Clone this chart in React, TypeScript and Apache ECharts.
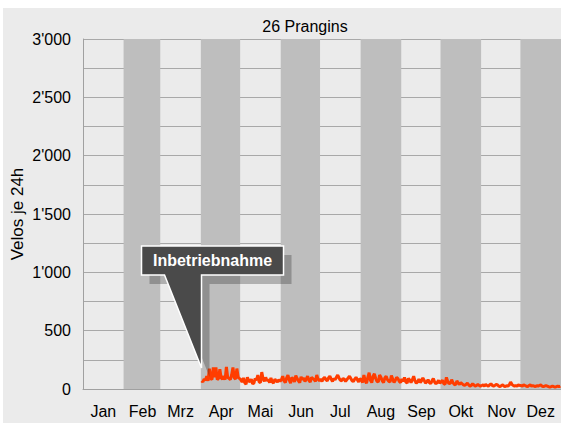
import React, { useEffect, useRef } from "react";
import * as echarts from "echarts";

const chartTitle = "26 Prangins";
const yAxisName = "Velos je 24h";
const annotationText = "Inbetriebnahme";
const monthLabels = ["Jan", "Feb", "Mrz", "Apr", "Mai", "Jun", "Jul", "Aug", "Sep", "Okt", "Nov", "Dez"];
const monthDays = [31, 28, 31, 30, 31, 30, 31, 31, 30, 31, 30, 31];
const yMin = 0;
const yMax = 3000;
const yGridStep = 250;
const yLabelStep = 500;

// daily counts from April (start of operation)
const aprValues = [70, 60, 85, 75, 110, 70, 175, 90, 80, 185, 100, 185, 80, 90, 170, 95, 85, 110, 80, 190, 100, 90, 80, 120, 185, 95, 85, 175, 100, 90];
const maiValues = [80, 60, 95, 55, 40, 100, 70, 60, 85, 45, 50, 90, 75, 120, 60, 55, 145, 90, 65, 100, 70, 80, 55, 95, 60, 50, 85, 70, 60, 80, 65];
const junValues = [80, 110, 70, 55, 95, 120, 75, 50, 100, 85, 60, 115, 90, 70, 55, 105, 80, 95, 65, 85, 110, 75, 60, 100, 90, 80, 65, 120, 85, 70];
const julValues = [85, 65, 90, 100, 80, 70, 95, 110, 85, 65, 90, 80, 100, 120, 95, 75, 70, 90, 85, 65, 80, 95, 110, 90, 70, 65, 85, 100, 80, 60, 90];
const augValues = [80, 55, 120, 70, 50, 100, 140, 75, 55, 110, 130, 90, 65, 60, 120, 100, 70, 55, 95, 110, 80, 65, 60, 115, 85, 55, 75, 100, 90, 65, 55];
const sepValues = [85, 65, 100, 60, 50, 90, 75, 55, 80, 110, 70, 50, 60, 85, 55, 70, 95, 75, 50, 60, 80, 55, 45, 70, 90, 60, 45, 55, 75, 50];
const oktValues = [60, 75, 45, 40, 100, 65, 45, 50, 80, 55, 40, 35, 70, 50, 40, 55, 45, 35, 30, 40, 50, 35, 25, 30, 45, 35, 25, 30, 40, 30, 25];
const novValues = [30, 35, 25, 40, 30, 25, 35, 45, 30, 25, 30, 40, 35, 25, 20, 30, 35, 25, 20, 30, 25, 35, 60, 40, 30, 25, 30, 25, 35, 30];
const dezValues = [30, 25, 35, 30, 25, 20, 30, 35, 25, 30, 25, 20, 30, 25, 30, 35, 25, 20, 25, 30, 25, 20, 15, 20, 25, 20, 15, 20, 25, 20, 25];
const monthValues: (number[] | null)[] = [null, null, null, aprValues, maiValues, junValues, julValues, augValues, sepValues, oktValues, novValues, dezValues];
const annotationDayIndex = 90;
const annotationValue = 180;

const FONT = "Liberation Sans, Arial, Helvetica, sans-serif";

function fmt(v: number) {
  return String(v).replace(/\B(?=(\d{3})+(?!\d))/g, "'");
}

export default function App() {
  const ref = useRef<HTMLDivElement>(null);
  useEffect(() => {
    if (!ref.current) return;
    const chart = echarts.init(ref.current, undefined, { renderer: "svg" });

    const monthStarts: number[] = [];
    let acc = 0;
    monthDays.forEach((d) => {
      monthStarts.push(acc);
      acc += d;
    });
    const totalDays = acc;
    const dayCats: string[] = [];
    const dayMonth: number[] = [];
    const values: (number | null)[] = [];
    monthDays.forEach((d, m) => {
      for (let i = 0; i < d; i++) {
        dayCats.push(monthLabels[m] + "-" + (i + 1));
        dayMonth.push(m);
        const arr = monthValues[m];
        values.push(arr ? arr[i] : null);
      }
    });
    const midIdx = new Set(monthStarts.map((s, m) => s + Math.floor(monthDays[m] / 2)));
    const bands = monthStarts
      .map((s, m) => ({ s, e: s + monthDays[m], m }))
      .filter((b) => b.m % 2 === 1)
      .map((b) => [{ xAxis: b.s }, { xAxis: b.e }]);

    chart.setOption({
      animation: false,
      backgroundColor: "#ebebeb",
      title: {
        text: chartTitle,
        left: 297,
        top: 5,
        textAlign: "center",
        textStyle: { fontSize: 16, fontWeight: "normal", color: "#000", fontFamily: FONT },
      },
      grid: { left: 80, right: 0, top: 31, bottom: 34, containLabel: false, outerBoundsMode: "none" },
      xAxis: [
        {
          type: "category",
          data: dayCats,
          boundaryGap: true,
          axisTick: { show: false },
          axisLine: { show: true, lineStyle: { color: "#a0a0a0", width: 1 } },
          splitLine: { show: false },
          axisLabel: {
            interval: (i: number) => midIdx.has(i),
            formatter: (_v: string, i: number) => monthLabels[dayMonth[i]],
            color: "#000",
            fontSize: 16,
            fontFamily: FONT,
            margin: 14,
          },
        },
        { type: "value", min: 0, max: totalDays, show: false },
      ],
      yAxis: {
        type: "value",
        min: yMin,
        max: yMax,
        interval: yGridStep,
        name: yAxisName,
        nameLocation: "middle",
        nameGap: 57,
        nameMoveOverlap: false,
        nameTextStyle: { fontSize: 17, color: "#000", fontFamily: FONT },
        axisLine: { show: true, lineStyle: { color: "#a0a0a0", width: 1 } },
        axisTick: { show: false },
        splitLine: { show: true, lineStyle: { color: "#a8a8a8", width: 1 } },
        axisLabel: {
          formatter: (v: number) => (v % yLabelStep === 0 ? fmt(v) : ""),
          color: "#000",
          fontSize: 16,
          fontFamily: FONT,
          margin: 12,
        },
      },
      series: [
        {
          type: "line",
          xAxisIndex: 1,
          data: [[0, 0]],
          showSymbol: false,
          lineStyle: { width: 0, opacity: 0 },
          silent: true,
          markArea: { silent: true, itemStyle: { color: "#bebebe" }, data: bands },
          z: 1,
        },
        {
          type: "line",
          xAxisIndex: 0,
          data: values,
          showSymbol: false,
          connectNulls: false,
          lineStyle: { width: 3, color: "#ff3d00" },
          itemStyle: { color: "#ff3d00" },
          z: 5,
        },
      ],
    });

    const tip = chart.convertToPixel({ xAxisIndex: 0, yAxisIndex: 0 }, [annotationDayIndex, annotationValue]) as number[];
    const tx = tip[0];
    const ty = tip[1];
    const pts = (dx: number, dy: number) => [
      [tx - 60 + dx, ty - 122 + dy],
      [tx + 82 + dx, ty - 122 + dy],
      [tx + 82 + dx, ty - 93 + dy],
      [tx + dx, ty - 93 + dy],
      [tx + dx, ty + dy],
      [tx - 37 + dx, ty - 93 + dy],
      [tx - 60 + dx, ty - 93 + dy],
    ];
    chart.setOption({
      graphic: [
        {
          type: "polygon",
          z: 100,
          silent: true,
          shape: { points: pts(8, 9) },
          style: { fill: "rgba(40,40,40,0.3)", stroke: "none" },
        },
        {
          type: "polygon",
          z: 101,
          silent: true,
          shape: { points: pts(0, 0) },
          style: { fill: "#4a4a4a", stroke: "#ffffff", lineWidth: 1.5 },
        },
        {
          type: "text",
          z: 102,
          silent: true,
          style: {
            text: annotationText,
            x: tx + 11,
            y: ty - 108,
            fill: "#ffffff",
            font: "bold 16px " + FONT,
            textAlign: "center",
            textVerticalAlign: "middle",
          },
        },
      ],
    });

    return () => chart.dispose();
  }, []);
  return (
    <div
      ref={ref}
      style={{ position: "absolute", left: 3, top: 8, width: 558, height: 415 }}
    />
  );
}
